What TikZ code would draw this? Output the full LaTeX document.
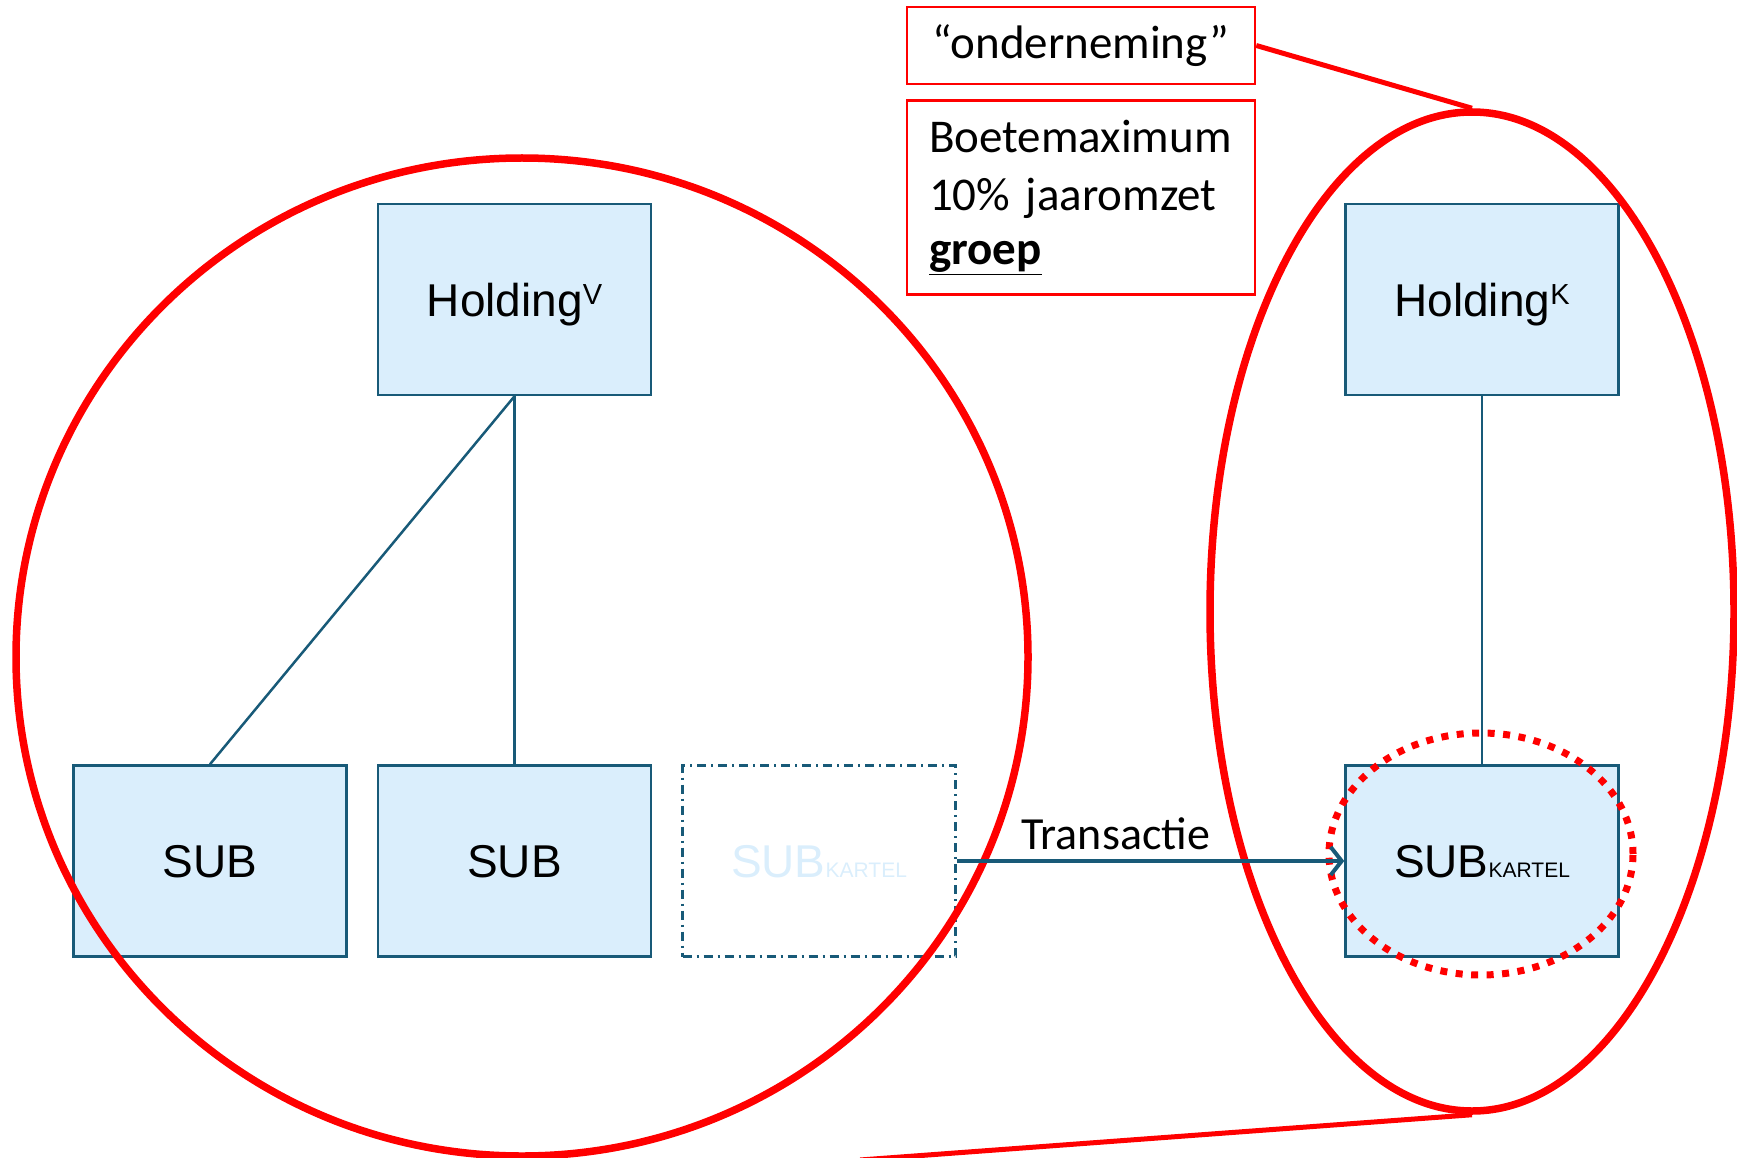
\documentclass[tikz,border=0pt]{standalone}
\usepackage{fontspec}
\setmainfont{Carlito}
\newfontfamily\arialfont{Liberation Sans}
\usetikzlibrary{shapes.geometric, arrows.meta, positioning}
\definecolor{boxblue}{RGB}{218,238,252}
\definecolor{boxline}{RGB}{24,90,120}

\begin{document}
\begin{tikzpicture}[x=1pt,y=-1pt,node distance=29pt,
    entity/.style={draw=boxline,fill=boxblue,line width=2.5pt,rectangle,minimum width=273pt,
        minimum height=191pt,inner sep=0pt,text centered,text depth=0pt,
        font=\arialfont\fontsize{46}{55}\selectfont},
    note/.style={draw=red,line width=2.5pt,rectangle,inner sep=0pt,minimum width=348pt,
        font=\fontsize{47}{58}\selectfont},
    group/.style={draw=red,line width=7.5pt,ellipse,inner sep=0pt}]
        \useasboundingbox (0,0) rectangle (1737,1158);
        % left group
        \node[entity] (holdingV) at (514.5,299.5)
        {Holding\raisebox{12pt}{\fontsize{29}{29}\selectfont V}};
        \node[entity, below=368pt of holdingV] (sub2) {SUB};
        \node[entity, left=29pt of sub2] (sub1) {SUB};
        \node[entity, right=29pt of sub2, fill=none, text=boxblue,
        dash pattern=on 9pt off 5pt on 2pt off 5pt] (ghost)
        {SUB{\fontsize{21}{21}\selectfont KARTEL}};
        % right group
        \node[entity] (holdingK) at (1482,299.5)
        {Holding\raisebox{12pt}{\fontsize{29}{29}\selectfont K}};
        \node[entity, below=368pt of holdingK] (subK)
        {SUB{\fontsize{21}{21}\selectfont KARTEL}};
        % notes
        \node[note, minimum height=77pt] (onderneming) at (1081,45.5)
        {``onderneming''};
        \node[note, below=14pt of onderneming, minimum height=194pt, text width=304pt,
        inner xsep=22pt, align=left] (boete)
        {Boetemaximum\\10\% jaaromzet\\[-4pt]\underline{\textbf{groep}}};
        % undertakings
        \node[group, minimum width=1012pt, minimum height=998pt] (groepV) at (522,657) {};
        \node[group, minimum width=524pt, minimum height=999pt] (groepK) at (1472,611.5) {};
        \node[draw=red, line width=7pt, ellipse, inner sep=0pt, minimum width=304pt,
        minimum height=242pt, dash pattern=on 7pt off 8.5pt] (focus) at (1481,854) {};
        \coordinate (cut) at (860,1160);
        \draw [boxline,line width=2.5pt] (holdingV.south) -- (sub1.north);
        \draw [boxline,line width=2.5pt] (holdingV.south) -- (sub2.north);
        \draw [boxline,line width=2.5pt] (holdingK.south) -- (subK.north);
        \draw [boxline,line width=4pt,->,>={Straight Barb[length=11pt,width=28pt]}] (ghost.east) --
        node[above=9pt, pos=0.41, inner sep=0pt, text=black, font=\fontsize{46}{55}\selectfont]
        {Transactie} (subK.west);
        \draw [red,line width=5pt] (onderneming.east) -- (groepK.north);
        \draw [red,line width=5pt] (groepK.south) -- (cut);
    \end{tikzpicture}
\end{document}
